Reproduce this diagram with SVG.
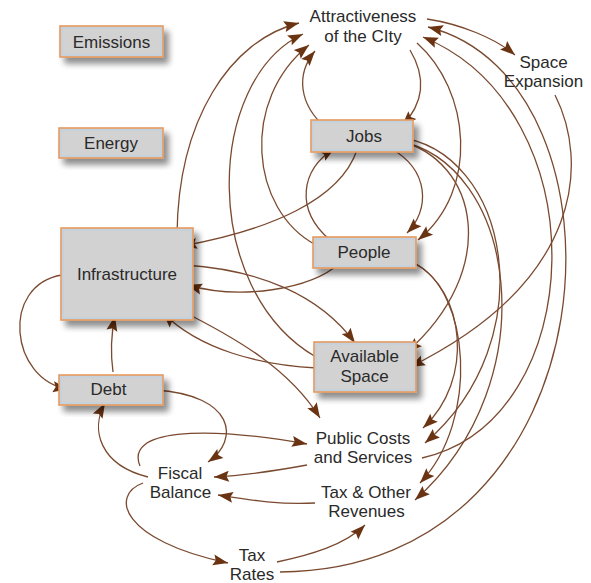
<svg xmlns="http://www.w3.org/2000/svg" width="591" height="583" viewBox="0 0 591 583">
<defs>
<style>
.box{fill:#d2d2d2;stroke:#e59a60;stroke-width:1.6}
.in{fill:none;stroke:#b9d0e4;stroke-width:1}
.t{font-family:"Liberation Sans",Arial,sans-serif;font-size:17px;fill:#2a2a2a;text-anchor:middle}
.c{fill:none;stroke:#7a4a30;stroke-width:1.3}
</style>
<filter id="sh" x="-20%" y="-20%" width="150%" height="160%">
<feGaussianBlur in="SourceAlpha" stdDeviation="3"/>
<feOffset dx="5" dy="6" result="b"/>
<feComponentTransfer><feFuncA type="linear" slope="0.45"/></feComponentTransfer>
<feMerge><feMergeNode/><feMergeNode in="SourceGraphic"/></feMerge>
</filter>
<marker id="a" markerUnits="userSpaceOnUse" markerWidth="16" markerHeight="12" refX="15" refY="5.5" orient="auto" overflow="visible">
<path d="M0,0 L15,5.5 L0,11 L2.5,5.5 z" fill="#6a3312"/>
</marker>
</defs>
<rect width="591" height="583" fill="#ffffff"/>
<g id="connectors">
<path class="c" marker-end="url(#a)" d="M177,235 C178,120 230,40 299,23"/>
<path class="c" marker-end="url(#a)" d="M316,357 C200,290 205,80 303,34"/>
<path class="c" marker-end="url(#a)" d="M316,245 C250,210 240,100 309,45"/>
<path class="c" marker-end="url(#a)" d="M325,127 C300,105 295,75 315,51"/>
<path class="c" marker-end="url(#a)" d="M410,50 C428,80 422,105 402,126"/>
<path class="c" marker-end="url(#a)" d="M427,19 C460,24 495,38 515,55"/>
<path class="c" marker-end="url(#a)" d="M555,95 C588,160 585,280 410,367"/>
<path class="c" marker-end="url(#a)" d="M417,43 C470,90 480,190 418,240"/>
<path class="c" marker-end="url(#a)" d="M390,148 C430,170 430,210 407,233"/>
<path class="c" marker-end="url(#a)" d="M330,240 C295,210 300,170 335,148"/>
<path class="c" marker-end="url(#a)" d="M357,150 C340,200 270,230 182,246"/>
<path class="c" marker-end="url(#a)" d="M340,263 C310,290 240,300 187,285"/>
<path class="c" marker-end="url(#a)" d="M185,265 C260,270 320,295 355,343"/>
<path class="c" marker-end="url(#a)" d="M317,368 C260,365 200,350 163,313"/>
<path class="c" marker-end="url(#a)" d="M180,310 C240,340 290,370 320,418"/>
<path class="c" marker-end="url(#a)" d="M62,275 C0,285 10,380 68,389"/>
<path class="c" marker-end="url(#a)" d="M113,372 C110,350 112,330 115,316"/>
<path class="c" marker-end="url(#a)" d="M155,390 C235,395 240,440 208,462"/>
<path class="c" marker-end="url(#a)" d="M148,477 C100,465 90,430 105,403"/>
<path class="c" marker-end="url(#a)" d="M140,466 C125,430 200,425 307,444"/>
<path class="c" marker-end="url(#a)" d="M307,465 C280,470 250,475 214,477"/>
<path class="c" marker-end="url(#a)" d="M315,503 C280,505 250,500 218,495"/>
<path class="c" marker-end="url(#a)" d="M143,483 C110,495 120,540 228,563"/>
<path class="c" marker-end="url(#a)" d="M277,562 C310,555 345,545 365,525"/>
<path class="c" marker-end="url(#a)" d="M280,572 C620,570 640,80 428,27"/>
<path class="c" marker-end="url(#a)" d="M422,458 C590,420 600,110 423,37"/>
<path class="c" marker-end="url(#a)" d="M397,140 C480,160 500,270 407,352"/>
<path class="c" marker-end="url(#a)" d="M397,137 C510,150 545,340 425,443"/>
<path class="c" marker-end="url(#a)" d="M397,141 C515,160 550,380 415,500"/>
<path class="c" marker-end="url(#a)" d="M414,263 C465,290 475,380 423,428"/>
<path class="c" marker-end="url(#a)" d="M414,263 C470,290 480,420 420,483"/>
</g>
<g id="emissions"><rect class="box" x="60" y="26" width="103" height="31" filter="url(#sh)"/><rect class="in" x="62" y="28" width="99" height="27"/><text class="t" x="111.5" y="48">Emissions</text></g>
<g id="energy"><rect class="box" x="59" y="128" width="104" height="30" filter="url(#sh)"/><rect class="in" x="61" y="130" width="100" height="26"/><text class="t" x="111" y="149">Energy</text></g>
<g id="infrastructure"><rect class="box" x="61" y="228" width="132" height="92" filter="url(#sh)"/><rect class="in" x="63" y="230" width="128" height="88"/><text class="t" x="127" y="280">Infrastructure</text></g>
<g id="debt"><rect class="box" x="59" y="375" width="104" height="30" filter="url(#sh)"/><rect class="in" x="61" y="377" width="100" height="26"/><text class="t" x="108.5" y="395">Debt</text></g>
<g id="jobs"><rect class="box" x="311" y="120" width="102" height="32" filter="url(#sh)"/><rect class="in" x="313" y="122" width="98" height="28"/><text class="t" x="364" y="142">Jobs</text></g>
<g id="people"><rect class="box" x="313" y="237" width="103" height="31" filter="url(#sh)"/><rect class="in" x="315" y="239" width="99" height="27"/><text class="t" x="364" y="258">People</text></g>
<g id="available-space"><rect class="box" x="314" y="342" width="102" height="50" filter="url(#sh)"/><rect class="in" x="316" y="344" width="98" height="46"/><text class="t" x="364.5" y="362">Available</text><text class="t" x="364.5" y="382">Space</text></g>
<g id="attractiveness"><text class="t" x="363" y="22">Attractiveness</text><text class="t" x="363" y="42">of the CIty</text></g>
<g id="space-expansion"><text class="t" x="543.5" y="68">Space</text><text class="t" x="543.5" y="87">Expansion</text></g>
<g id="public-costs"><text class="t" x="363" y="444">Public Costs</text><text class="t" x="363" y="463">and Services</text></g>
<g id="tax-revenues"><text class="t" x="366" y="498">Tax &amp; Other</text><text class="t" x="366.5" y="517">Revenues</text></g>
<g id="fiscal-balance"><text class="t" x="180" y="479">Fiscal</text><text class="t" x="180.5" y="498">Balance</text></g>
<g id="tax-rates"><text class="t" x="252" y="561">Tax</text><text class="t" x="252" y="580">Rates</text></g>
</svg>
